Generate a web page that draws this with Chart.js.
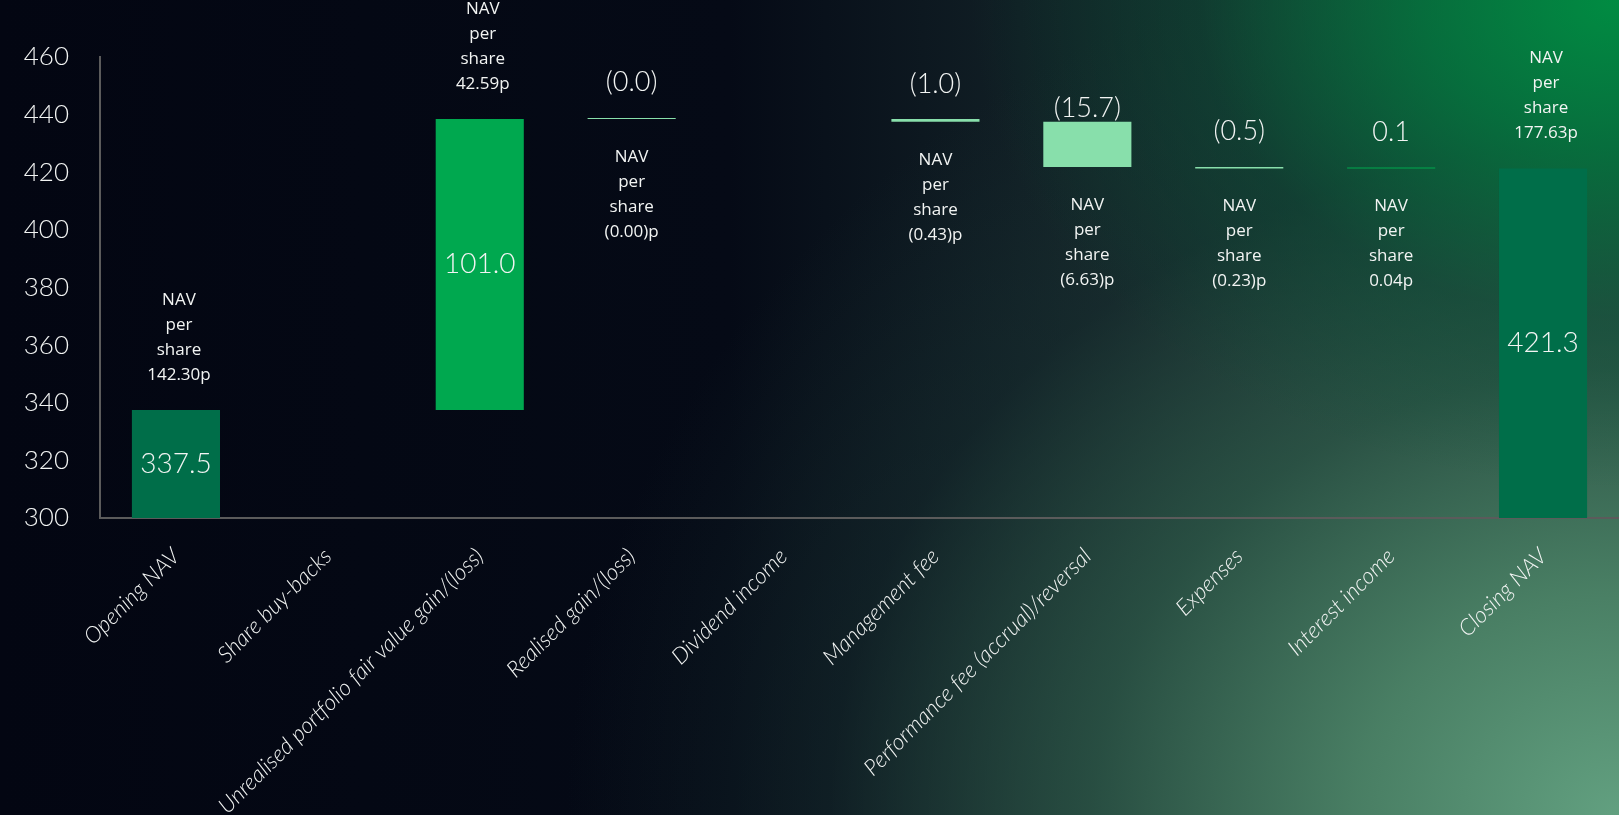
<!DOCTYPE html>
<html>
<head>
<meta charset="utf-8">
<script src="https://cdn.jsdelivr.net/npm/chart.js@4.4.0/dist/chart.umd.min.js"></script>
<style>
  html, body { margin: 0; padding: 0; }
  body {
    width: 1619px;
    height: 815px;
    overflow: hidden;
    background-color: #030612;
    background-image:
      radial-gradient(ellipse 40% 60% at 100% 0%, rgba(0,140,66,1) 0%, rgba(0,122,62,0.8) 30%, rgba(0,85,52,0.35) 65%, rgba(0,0,0,0) 100%),
      radial-gradient(ellipse 65% 110% at 100% 100%, rgba(98,160,128,1) 0%, rgba(75,130,102,0.95) 25%, rgba(45,88,72,0.8) 50%, rgba(25,50,50,0.4) 75%, rgba(0,0,0,0) 100%),
      linear-gradient(90deg, #030612 0%, #050a16 45%, #111f25 63%, #1d3332 80%, #29473f 100%);
  }
  #wrap { position: relative; width: 1619px; height: 815px; }
</style>
</head>
<body>
<div id="wrap"><canvas id="navBridge"></canvas></div>
<script>
var categories = [
  "Opening NAV", "Share buy-backs", "Unrealised portfolio fair value gain/(loss)",
  "Realised gain/(loss)", "Dividend income", "Management fee",
  "Performance fee (accrual)/reversal", "Expenses", "Interest income", "Closing NAV"
];
// movements in £m, totals for opening/closing, null where nothing is shown
var movements = [337.5, null, 101.0, -0.0, null, -1.0, -15.7, -0.5, 0.1, 421.3];
var isTotal = [true, false, false, false, false, false, false, false, false, true];
var valueLabels = ["337.5", "", "101.0", "(0.0)", "", "(1.0)", "(15.7)", "(0.5)", "0.1", "421.3"];
var navPerShare = ["142.30p", "", "42.59p", "(0.00)p", "", "(0.43)p", "(6.63)p", "(0.23)p", "0.04p", "177.63p"];
var yMin = 300, yMax = 460, yStep = 20;

var totalColor = "#006e49";
var gainColor = "#00a84f";
var lossColor = "#88dfab";

// build floating bars from the running total
var barData = [];
var barColors = [];
var running = 0;
for (var i = 0; i < movements.length; i++) {
  var m = movements[i];
  if (m === null) {
    barData.push(null);
    barColors.push("rgba(0,0,0,0)");
  } else if (isTotal[i]) {
    barData.push(m);
    barColors.push(totalColor);
    running = m;
  } else {
    barData.push([running, running + m]);
    barColors.push((m < 0 || 1 / m < 0) ? lossColor : gainColor);
    running += m;
  }
}

const waterfallLabels = {
  id: "waterfallLabels",
  afterDatasetsDraw: function (chart) {
    const ctx = chart.ctx;
    const meta = chart.getDatasetMeta(0);
    meta.data.forEach(function (bar, i) {
      if (movements[i] === null) return;
      const top = Math.min(bar.y, bar.base);
      const bottom = Math.min(Math.max(bar.y, bar.base), chart.chartArea.bottom);
      const x = bar.x;
      const navLines = ["NAV", "per", "share", navPerShare[i]];

      ctx.save();
      ctx.fillStyle = "#f2f4f3";
      ctx.textAlign = "center";
      ctx.textBaseline = "middle";
      if (bottom - top > 100) {
        ctx.font = "300 28px Lato";
        ctx.fillText(valueLabels[i], x, (top + bottom) / 2);
        ctx.font = "17px 'Open Sans'";
        navLines.forEach(function (t, k) {
          ctx.fillText(t, x + 3, top - 35 - (3 - k) * 25);
        });
      } else {
        ctx.font = "300 27px Lato";
        ctx.fillText(valueLabels[i], x, (top + bottom) / 2 - 36);
        ctx.font = "17px 'Open Sans'";
        navLines.forEach(function (t, k) {
          ctx.fillText(t, x, bottom + 38 + k * 25);
        });
      }
      ctx.restore();
    });
  }
};

var ctx = document.getElementById("navBridge").getContext("2d");
var navChart = new Chart(ctx, {
  type: "bar",
  data: {
    labels: categories,
    datasets: [{
      data: barData,
      backgroundColor: barColors,
      borderWidth: 0,
      barPercentage: 0.58,
      categoryPercentage: 1,
      minBarLength: 1
    }]
  },
  options: {
    responsive: true,
    maintainAspectRatio: false,
    animation: false,
    layout: {
      padding: { left: 22, top: 57, right: 0, bottom: 0 }
    },
    plugins: {
      legend: { display: false },
      tooltip: { enabled: false }
    },
    scales: {
      x: {
        grid: { display: false, drawTicks: false },
        border: { color: "#5b5b5b", width: 2 },
        ticks: {
          color: "#f2f4f3",
          font: { family: "Lato", size: 22.5, style: "italic", weight: 300 },
          minRotation: 45,
          maxRotation: 45,
          autoSkip: false,
          padding: 25
        },
        afterFit: function (scale) {
          scale.paddingLeft = 0;
          scale.paddingRight = 0;
          scale.height = 297;
        }
      },
      y: {
        min: yMin,
        max: yMax,
        grid: { display: false, drawTicks: false },
        border: { color: "#5b5b5b", width: 2 },
        ticks: {
          stepSize: yStep,
          color: "#f2f4f3",
          font: { family: "Lato", size: 26, weight: 300 },
          padding: 31
        },
        afterFit: function (scale) {
          scale.width = 78;
        }
      }
    }
  },
  plugins: [waterfallLabels]
});
</script>
</body>
</html>
